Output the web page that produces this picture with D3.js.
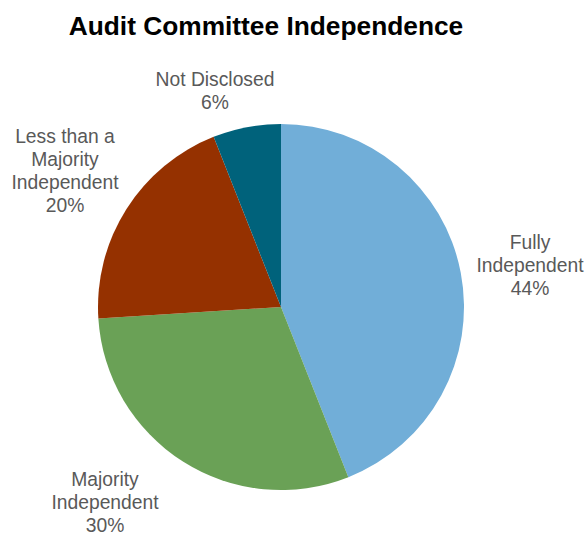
<!DOCTYPE html>
<html>
<head>
<meta charset="utf-8">
<script src="https://cdn.jsdelivr.net/npm/d3@7"></script>
<style>
  html, body { margin: 0; padding: 0; background: #fff; }
  svg { display: block; }
</style>
</head>
<body>
<svg id="chart" width="586" height="533"></svg>
<script>
// Audit committee composition, shares in percent (clockwise from 12 o'clock)
const categories = ["Fully Independent", "Majority Independent", "Less than a Majority Independent", "Not Disclosed"];
const shares = [44, 30, 20, 6];
const sliceColors = ["#71AED8", "#6AA156", "#953100", "#00627B"];
// Label lines for each slice (name wrapped as drawn, then the percentage)
const labelLines = [
  ["Fully", "Independent"],
  ["Majority", "Independent"],
  ["Less than a", "Majority", "Independent"],
  ["Not Disclosed"]
];
// Label anchor (center x, first baseline y) for each slice
const labelAnchors = [
  [530, 249],
  [105, 486],
  [65, 143],
  [215, 86]
];

const svg = d3.select("#chart");
const cx = 281, cy = 307, radius = 183;
const fontFamily = "'Liberation Sans', Arial, sans-serif";

svg.append("text")
  .attr("x", 266)
  .attr("y", 35)
  .attr("text-anchor", "middle")
  .attr("font-family", fontFamily)
  .attr("font-weight", "bold")
  .attr("font-size", 26.3)
  .attr("fill", "#000")
  .text("Audit Committee Independence");

const pie = d3.pie().sort(null).value(d => d)(shares);
const arc = d3.arc().innerRadius(0).outerRadius(radius);

const g = svg.append("g").attr("transform", `translate(${cx},${cy})`);
g.selectAll("path")
  .data(pie)
  .join("path")
  .attr("d", arc)
  .attr("fill", (d, i) => sliceColors[i]);

const lineH = 23;
const labels = svg.append("g")
  .attr("font-family", fontFamily)
  .attr("font-size", 19.3)
  .attr("fill", "#595959")
  .attr("text-anchor", "middle");

shares.forEach((v, i) => {
  const lines = labelLines[i].concat([v + "%"]);
  const t = labels.append("text")
    .attr("x", labelAnchors[i][0])
    .attr("y", labelAnchors[i][1]);
  lines.forEach((ln, k) => {
    t.append("tspan")
      .attr("x", labelAnchors[i][0])
      .attr("dy", k === 0 ? 0 : lineH)
      .text(ln);
  });
});
</script>
</body>
</html>
